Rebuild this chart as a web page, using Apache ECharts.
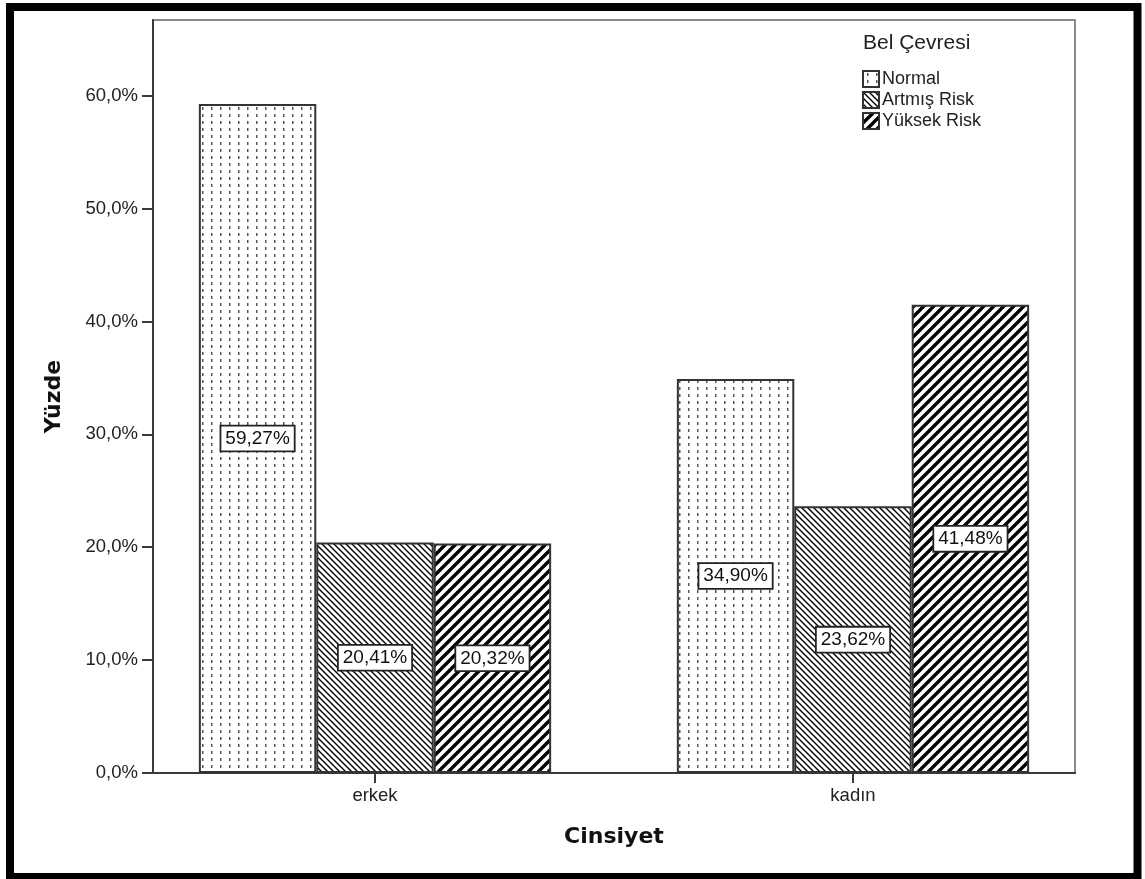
<!DOCTYPE html>
<html>
<head>
<meta charset="utf-8">
<script src="https://cdn.jsdelivr.net/npm/echarts@6/dist/echarts.min.js"></script>
<style>
  html, body { margin: 0; padding: 0; background: #fff; }
  #chart { width: 1145px; height: 879px; }
</style>
</head>
<body>
<div id="chart"></div>
<script>
// Bel çevresi dağılımı, cinsiyete göre (yüzde)
const categories = ['erkek', 'kadın'];
const seriesNames = ['Normal', 'Artmış Risk', 'Yüksek Risk'];
const normalValues = [59.27, 34.90];
const artmisValues = [20.41, 23.62];
const yuksekValues = [20.32, 41.48];
const yTicks = [0, 10, 20, 30, 40, 50, 60];
const yMax = 66.7;

// ---- fill patterns for the bars ----
function makeTile(w, h, draw) {
  const c = document.createElement('canvas');
  c.width = w; c.height = h;
  const ctx = c.getContext('2d');
  ctx.fillStyle = '#fff';
  ctx.fillRect(0, 0, w, h);
  draw(ctx, w, h);
  return c;
}
// dotted vertical rows
const dotTile = makeTile(9, 7, ctx => {
  ctx.fillStyle = '#555';
  ctx.fillRect(4, 2, 1.5, 3);
});
// diagonal hatching; dir > 0 => '/', dir < 0 => '\'
function hatchTile(p, lw, dir) {
  return makeTile(p, p, ctx => {
    ctx.strokeStyle = '#000';
    ctx.lineWidth = lw;
    for (let k = -1; k <= 2; k++) {
      ctx.beginPath();
      if (dir > 0) { ctx.moveTo(k * p + p, -p); ctx.lineTo(k * p - 2 * p, 2 * p); }
      else { ctx.moveTo(k * p - p, -p); ctx.lineTo(k * p + 2 * p, 2 * p); }
      ctx.stroke();
    }
  });
}
const fills = [
  { image: dotTile, repeat: 'repeat' },
  { image: hatchTile(6, 1.4, -1), repeat: 'repeat' },
  { image: hatchTile(10, 3.4, 1), repeat: 'repeat' }
];
const valuesBySeries = [normalValues, artmisValues, yuksekValues];

const fmtPct1 = v => v.toFixed(1).replace('.', ',') + '%';
const fmtPct2 = v => v.toFixed(2).replace('.', ',') + '%';

const FONT = "'Liberation Sans', Arial, sans-serif";
const BOLD_FONT = "'DejaVu Sans', Verdana, sans-serif";

const chart = echarts.init(document.getElementById('chart'), null, { renderer: 'canvas' });

const option = {
  animation: false,
  backgroundColor: '#fff',
  textStyle: { fontFamily: FONT },
  title: {
    text: 'Bel Çevresi',
    left: 858, top: 28,
    textStyle: { fontFamily: FONT, fontSize: 21, fontWeight: 'normal', color: '#222' }
  },
  legend: {
    data: seriesNames,
    orient: 'vertical',
    left: 857, top: 65,
    itemWidth: 16, itemHeight: 16, itemGap: 3,
    icon: 'rect',
    selectedMode: false,
    textStyle: { fontFamily: FONT, fontSize: 18, color: '#222', padding: [0, 0, 0, -2] }
  },
  grid: [
    // frame and y axis
    { left: 153, right: 70, top: 20, bottom: 106, show: true, borderColor: '#8a8a8a', borderWidth: 2, backgroundColor: 'transparent' },
    // bar band area
    { left: 136, right: 53, top: 20, bottom: 106 }
  ],
  xAxis: [
    {
      gridIndex: 0, type: 'value', min: 0, max: 1,
      axisLine: { show: true, lineStyle: { color: '#3a3a3a', width: 2 } },
      axisTick: { show: false }, axisLabel: { show: false }, splitLine: { show: false }
    },
    {
      gridIndex: 1, type: 'category', data: categories,
      axisLine: { show: false },
      axisTick: { show: true, alignWithLabel: true, length: 10, lineStyle: { color: '#3a3a3a', width: 2 } },
      axisLabel: { margin: 13, fontSize: 18.5, color: '#222', fontFamily: FONT },
      name: 'Cinsiyet', nameLocation: 'middle', nameGap: 53,
      nameTextStyle: { fontFamily: BOLD_FONT, fontWeight: 'bold', fontSize: 22, color: '#111' }
    }
  ],
  yAxis: [
    {
      gridIndex: 0, type: 'value', min: 0, max: yMax,
      axisLine: { show: true, lineStyle: { color: '#3a3a3a', width: 2 } },
      axisTick: { show: true, length: 11, customValues: yTicks, lineStyle: { color: '#3a3a3a', width: 2 } },
      axisLabel: { customValues: yTicks, formatter: fmtPct1, margin: 15, fontSize: 18.5, color: '#222', fontFamily: FONT },
      splitLine: { show: false },
      name: 'Yüzde', nameLocation: 'middle', nameRotate: 90, nameGap: 88,
      nameTextStyle: { fontFamily: BOLD_FONT, fontWeight: 'bold', fontSize: 22, color: '#111' }
    },
    { gridIndex: 1, type: 'value', min: 0, max: yMax, show: false }
  ],
  series: seriesNames.map((name, i) => ({
    name,
    type: 'bar',
    xAxisIndex: 1, yAxisIndex: 1,
    data: valuesBySeries[i],
    barGap: '0%',
    barCategoryGap: '26.3%',
    itemStyle: { color: fills[i], borderColor: '#333', borderWidth: 2 },
    label: {
      show: true, position: 'inside',
      formatter: p => fmtPct2(p.value),
      fontFamily: FONT, fontSize: 19, color: '#111',
      backgroundColor: '#fff', borderColor: '#222', borderWidth: 1.8,
      padding: [3, 4, 2, 4]
    }
  })),
  graphic: [
    {
      type: 'rect', silent: true, z: 100,
      shape: { x: 10, y: 7, width: 1127.5, height: 870 },
      style: { fill: 'none', stroke: '#000', lineWidth: 8 }
    }
  ]
};

chart.setOption(option);
</script>
</body>
</html>
